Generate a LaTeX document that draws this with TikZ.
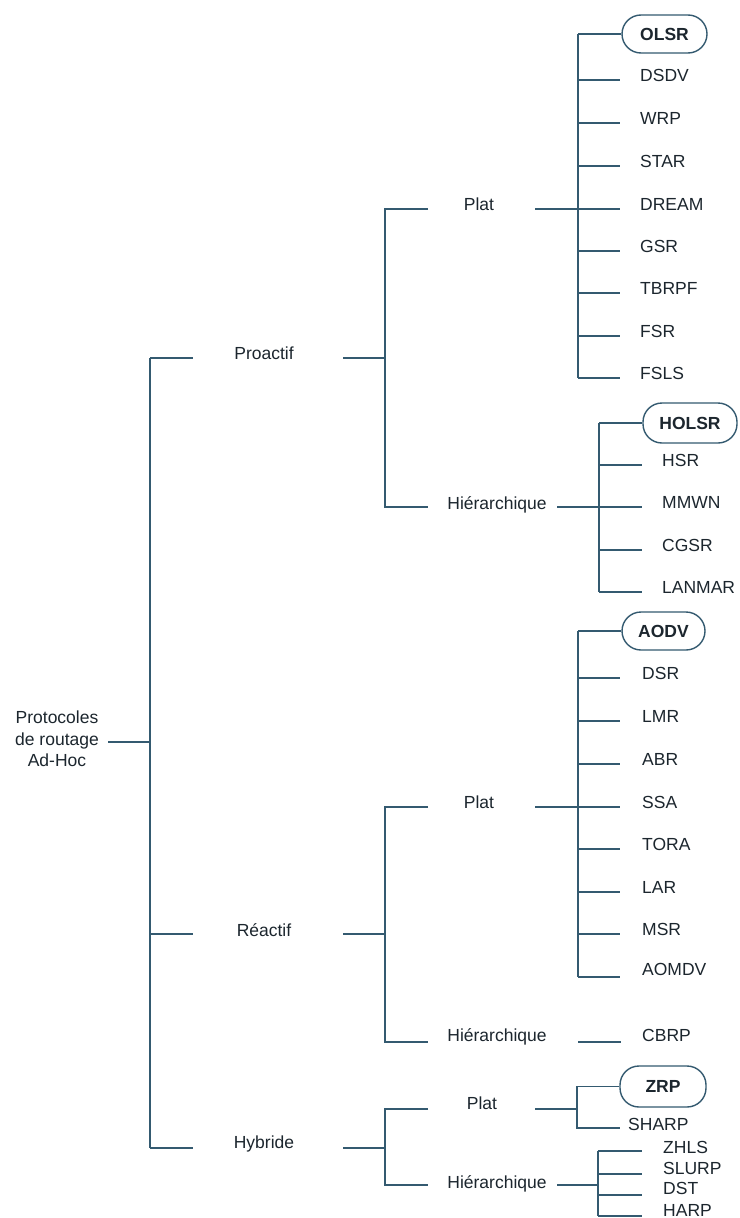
\documentclass[tikz,border=0pt]{standalone}
\usepackage{fontspec}
\setmainfont{Liberation Sans}
\usetikzlibrary{calc}
\definecolor{wire}{RGB}{52,90,112}
\definecolor{ink}{RGB}{28,38,46}
\begin{document}
\begin{tikzpicture}[x=1pt,y=-1pt,
  wire/.style={draw=wire,line width=1.6pt},
  lbl/.style={font=\fontsize{17.5}{21.5}\selectfont,text=ink,inner sep=0pt,
    text height=12.5pt,text depth=0pt},
  leaf/.style={lbl,anchor=west},
  rootlbl/.style={font=\fontsize{17.5}{21.5}\selectfont,text=ink,inner sep=0pt,align=center},
  chosen/.style={font=\fontsize{17.5}{21.5}\selectfont\bfseries,text=ink,inner sep=0pt,
    text height=12.5pt,text depth=0pt,draw=wire,line width=1.4pt,rounded corners=19pt},
]
\fill[white] (0,0) rectangle (739,1218);
\useasboundingbox (0,0) rectangle (739,1218);

% ---- root ----
\node[rootlbl] (root) at (57,739) {Protocoles\\de routage\\Ad-Hoc};
\coordinate (root-out) at (108,742);
\coordinate (b0) at (150,742);
\draw[wire] (root-out) -- (b0);
\coordinate (b0-top) at (150,358);
\coordinate (b0-bot) at (150,1148);
\draw[wire] (b0-top) -- (b0-bot);

% ---- level 1: protocol families ----
\foreach \n/\t/\y/\ty in {pro/Proactif/358/353, rea/Réactif/934/930, hyb/Hybride/1148/1142} {
  \node[lbl] (\n) at (264,\ty) {\t};
  \coordinate (\n-in) at (193,\y);
  \coordinate (\n-out) at (343,\y);
  \coordinate (\n-bus) at (385,\y);
  \draw[wire] (b0-top |- \n-in) -- (\n-in);
  \draw[wire] (\n-out) -- (\n-bus);
}

% ---- level 2: flat / hierarchical ----
\foreach \p/\py/\pty/\px/\h/\hy/\hty in {pro/209/204/479/pro/507/503, rea/807/802/479/rea/1042/1035, hyb/1109/1103/482/hyb/1185/1182} {
  \node[lbl] (\p-plat) at (\px,\pty) {Plat};
  \node[lbl] (\h-hier) at (497,\hty) {Hiérarchique};
  \coordinate (\p-plat-in) at (428,\py);
  \coordinate (\h-hier-in) at (428,\hy);
  \draw[wire] (\p-plat-in) -| (\p-bus) |- (\h-hier-in);
}

% outgoing stubs of level 2
\coordinate (pro-plat-out) at (535,209);  \coordinate (pp-bus) at (578,209);
\coordinate (pro-hier-out) at (557,507);  \coordinate (ph-bus) at (599,507);
\coordinate (rea-plat-out) at (535,807);  \coordinate (rp-bus) at (578,807);
\coordinate (rea-hier-out) at (578,1042); \coordinate (rh-end) at (621,1042);
\coordinate (hyb-plat-out) at (535,1109); \coordinate (hp-bus) at (577,1109);
\coordinate (hyb-hier-out) at (557,1185); \coordinate (hh-bus) at (598,1185);
\draw[wire] (pro-plat-out) -- (pp-bus);
\draw[wire] (pro-hier-out) -- (ph-bus);
\draw[wire] (rea-plat-out) -- (rp-bus);
\draw[wire] (rea-hier-out) -- (rh-end);
\draw[wire] (hyb-plat-out) -- (hp-bus);
\draw[wire] (hyb-hier-out) -- (hh-bus);

% ---- proactive, flat ----
\node[chosen,minimum width=85pt,minimum height=38pt] (OLSR) at (664.5,34) {OLSR};
\draw[wire] (pp-bus |- OLSR.west) -- (OLSR.west);
\foreach \n/\y/\ty in {DSDV/80/75, WRP/123/118, STAR/166/161, DREAM/209/204,
    GSR/251/246, TBRPF/293/288, FSR/336/331, FSLS/378/373} {
  \node[leaf] (\n) at (640,\ty) {\n};
  \coordinate (\n-in) at (620,\y);
  \draw[wire] (pp-bus |- \n-in) -- (\n-in);
}
\draw[wire] (pp-bus |- OLSR.west) -- (pp-bus |- FSLS-in);

% ---- proactive, hierarchical ----
\node[chosen,minimum width=94pt,minimum height=40pt] (HOLSR) at (690,423) {HOLSR};
\draw[wire] (ph-bus |- HOLSR.west) -- (HOLSR.west);
\foreach \n/\y/\ty in {HSR/465/460, MMWN/507/502, CGSR/550/545, LANMAR/592/587} {
  \node[leaf] (\n) at (662,\ty) {\n};
  \coordinate (\n-in) at (642,\y);
  \draw[wire] (ph-bus |- \n-in) -- (\n-in);
}
\draw[wire] (ph-bus |- HOLSR.west) -- (ph-bus |- LANMAR-in);

% ---- reactive, flat ----
\node[chosen,minimum width=83pt,minimum height=38pt] (AODV) at (663.5,631) {AODV};
\draw[wire] (rp-bus |- AODV.west) -- (AODV.west);
\foreach \n/\y/\ty in {DSR/678/673, LMR/721/716, ABR/764/759, SSA/807/802,
    TORA/849/844, LAR/892/887, MSR/934/929, AOMDV/977/969} {
  \node[leaf] (\n) at (642,\ty) {\n};
  \coordinate (\n-in) at (620,\y);
  \draw[wire] (rp-bus |- \n-in) -- (\n-in);
}
\draw[wire] (rp-bus |- AODV.west) -- (rp-bus |- AOMDV-in);

% ---- reactive, hierarchical ----
\node[leaf] (CBRP) at (642,1035) {CBRP};

% ---- hybrid, flat ----
\node[chosen,minimum width=86pt,minimum height=41pt] (ZRP) at (663,1086.5) {ZRP};
\node[leaf] (SHARP) at (628,1124) {SHARP};
\coordinate (SHARP-in) at (620,1128);
\draw[wire] (ZRP.west) -| (hp-bus |- SHARP-in) -- (SHARP-in);

% ---- hybrid, hierarchical ----
\foreach \n/\y/\ty in {ZHLS/1151/1147, SLURP/1174/1168, DST/1195/1188, HARP/1216/1210} {
  \node[leaf] (\n) at (663,\ty) {\n};
  \coordinate (\n-in) at (642,\y);
  \draw[wire] (hh-bus |- \n-in) -- (\n-in);
}
\draw[wire] (hh-bus |- ZHLS-in) -- (hh-bus |- HARP-in);
\end{tikzpicture}
\end{document}
